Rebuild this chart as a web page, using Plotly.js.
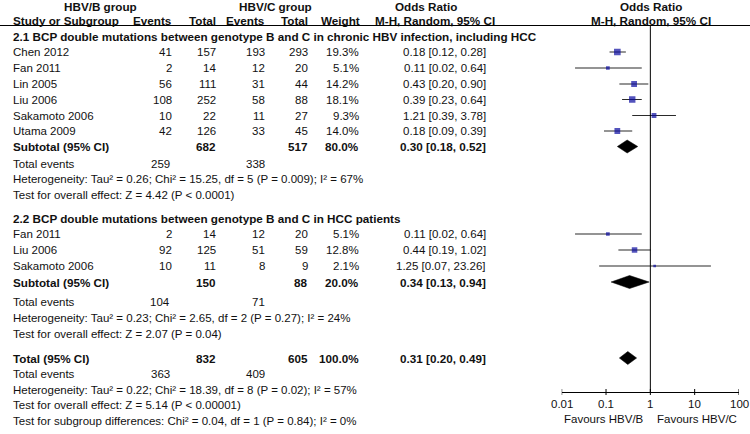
<!DOCTYPE html>
<html>
<head>
<meta charset="utf-8">
<script src="https://cdn.plot.ly/plotly-3.0.1.min.js"></script>
<style>
html,body{margin:0;padding:0;background:#fff;}
#chart{width:750px;height:434px;}
</style>
</head>
<body>
<div id="chart"></div>
<script>
// ---------- data ----------
const groupHeadings = [
  "2.1 BCP double mutations between genotype B and C in chronic HBV infection, including HCC",
  "2.2 BCP double mutations between genotype B and C in HCC patients"
];
const studies1 = ["Chen 2012", "Fan 2011", "Lin 2005", "Liu 2006", "Sakamoto 2006", "Utama 2009"];
const eventsB1 = [41, 2, 56, 108, 10, 42];
const totalB1  = [157, 14, 111, 252, 22, 126];
const eventsC1 = [193, 12, 31, 58, 11, 33];
const totalC1  = [293, 20, 44, 88, 27, 45];
const weight1  = [19.3, 5.1, 14.2, 18.1, 9.3, 14.0];
const or1      = [0.18, 0.11, 0.43, 0.39, 1.21, 0.18];
const lo1      = [0.12, 0.02, 0.20, 0.23, 0.39, 0.09];
const hi1      = [0.28, 0.64, 0.90, 0.64, 3.78, 0.39];

const studies2 = ["Fan 2011", "Liu 2006", "Sakamoto 2006"];
const eventsB2 = [2, 92, 10];
const totalB2  = [14, 125, 11];
const eventsC2 = [12, 51, 8];
const totalC2  = [20, 59, 9];
const weight2  = [5.1, 12.8, 2.1];
const or2      = [0.11, 0.44, 1.25];
const lo2      = [0.02, 0.19, 0.07];
const hi2      = [0.64, 1.02, 23.26];

// summaries: subtotal 1, subtotal 2, overall total
const summaryLabels  = ["Subtotal (95% CI)", "Subtotal (95% CI)", "Total (95% CI)"];
const summaryTotalB  = [682, 150, 832];
const summaryTotalC  = [517, 88, 605];
const summaryWeight  = [80.0, 20.0, 100.0];
const summaryOR      = [0.30, 0.34, 0.31];
const summaryLo      = [0.18, 0.13, 0.20];
const summaryHi      = [0.52, 0.94, 0.49];
const summaryEventsB = [259, 104, 363];
const summaryEventsC = [338, 71, 409];
const heterogeneity = [
  "Heterogeneity: Tau² = 0.26; Chi² = 15.25, df = 5 (P = 0.009); I² = 67%",
  "Heterogeneity: Tau² = 0.23; Chi² = 2.65, df = 2 (P = 0.27); I² = 24%",
  "Heterogeneity: Tau² = 0.22; Chi² = 18.39, df = 8 (P = 0.02); I² = 57%"
];
const overallEffect = [
  "Test for overall effect: Z = 4.42 (P < 0.0001)",
  "Test for overall effect: Z = 2.07 (P = 0.04)",
  "Test for overall effect: Z = 5.14 (P < 0.00001)"
];
const subgroupTest = "Test for subgroup differences: Chi² = 0.04, df = 1 (P = 0.84); I² = 0%";
const tickVals   = [0.01, 0.1, 1, 10, 100];
const tickLabels = ["0.01", "0.1", "1", "10", "100"];
const favourLabels = ["Favours HBV/B", "Favours HBV/C"];

// ---------- layout (pixel rows, since the y axis spans the page height) ----------
const W = 750, H = 434;
const rowsStudy1 = [52, 68, 84, 99.5, 115.5, 131];
const rowsStudy2 = [234, 250, 266];
const rowHeading = [36, 218];
const rowSummary = [146.5, 282, 358];
const rowEvents  = [163.5, 302, 374];
const rowHet     = [179, 318, 389.5];
const rowTest    = [194.5, 334, 405];
const rowSubTest = 421;
const axisY = 392;
const ruleY = 25.5;
const tickLabelY = 403.5;
const favourY = 419;

const colX = {label: 11, evB: 174, totB: 218, evC: 267, totC: 310, weight: 361, or: 488};
const FONT = "Liberation Sans, Arial, sans-serif";
const FS = 11.5;      // regular text
const FSB = 11.7;     // bold text
const TXT = "#111111";

const ann = [];
function addText(text, xpx, y, anchor, bold) {
  ann.push({
    text: bold ? "<b>" + text + "</b>" : text,
    xref: "paper", yref: "y", x: xpx / W, y: y,
    xanchor: anchor, yanchor: "middle", showarrow: false,
    font: {family: FONT, size: bold ? FSB : FS, color: TXT}
  });
}
function addPlotText(text, xv, y, anchor, xshift, bold) {
  ann.push({text: bold ? "<b>" + text + "</b>" : text, xref: "x", yref: "y", x: Math.log10(xv), y: y,
    xanchor: anchor, yanchor: "middle", xshift: xshift || 0, showarrow: false,
    font: {family: FONT, size: bold ? FSB : FS, color: TXT}});
}
const fmtW = w => w.toFixed(1) + "%";
const fmtOR = (o, l, h) => o.toFixed(2) + " [" + l.toFixed(2) + ", " + h.toFixed(2) + "]";

// headers
addText("HBV/B group", 100, 6, "center", true);
addText("HBV/C group", 275, 6, "center", true);
addText("Odds Ratio", 426, 6, "center", true);
addText("Study or Subgroup", colX.label, 20.5, "left", true);
addText("Events", colX.evB, 20.5, "right", true);
addText("Total", colX.totB, 20.5, "right", true);
addText("Events", colX.evC, 20.5, "right", true);
addText("Total", colX.totC, 20.5, "right", true);
addText("Weight", colX.weight + 1, 20.5, "right", true);
addText("M-H, Random, 95% CI", 435, 20.5, "center", true);
addPlotText("Odds Ratio", 1, 6, "center", 1, true);
addPlotText("M-H, Random, 95% CI", 1, 20.5, "center", 1, true);

function studyRows(names, eB, tB, eC, tC, w, o, l, h, rows) {
  names.forEach((n, i) => {
    const y = rows[i];
    addText(n, colX.label, y, "left", false);
    addText(String(eB[i]), colX.evB, y, "right", false);
    addText(String(tB[i]), colX.totB, y, "right", false);
    addText(String(eC[i]), colX.evC, y, "right", false);
    addText(String(tC[i]), colX.totC, y, "right", false);
    addText(fmtW(w[i]), colX.weight, y, "right", false);
    addText(fmtOR(o[i], l[i], h[i]), colX.or, y, "right", false);
  });
}
addText(groupHeadings[0], colX.label, rowHeading[0], "left", true);
studyRows(studies1, eventsB1, totalB1, eventsC1, totalC1, weight1, or1, lo1, hi1, rowsStudy1);
addText(groupHeadings[1], colX.label, rowHeading[1], "left", true);
studyRows(studies2, eventsB2, totalB2, eventsC2, totalC2, weight2, or2, lo2, hi2, rowsStudy2);

for (let k = 0; k < 3; k++) {
  const y = rowSummary[k];
  addText(summaryLabels[k], colX.label, y, "left", true);
  addText(String(summaryTotalB[k]), colX.totB, y, "right", true);
  addText(String(summaryTotalC[k]), colX.totC, y, "right", true);
  addText(fmtW(summaryWeight[k]), colX.weight, y, "right", true);
  addText(fmtOR(summaryOR[k], summaryLo[k], summaryHi[k]), colX.or, y, "right", true);
  addText("Total events", colX.label, rowEvents[k], "left", false);
  addText(String(summaryEventsB[k]), colX.evB - 2, rowEvents[k], "right", false);
  addText(String(summaryEventsC[k]), colX.evC, rowEvents[k], "right", false);
  addText(heterogeneity[k], colX.label, rowHet[k], "left", false);
  addText(overallEffect[k], colX.label, rowTest[k], "left", false);
}
addText(subgroupTest, colX.label, rowSubTest, "left", false);

// axis tick labels and favours labels
tickVals.forEach((v, i) => addPlotText(tickLabels[i], v, tickLabelY, "center"));
addPlotText(favourLabels[0], 1, favourY, "right", -4);
addPlotText(favourLabels[1], 1, favourY, "left", 5);

// ---------- traces ----------
const allOR = or1.concat(or2), allLo = lo1.concat(lo2), allHi = hi1.concat(hi2);
const allW = weight1.concat(weight2), allRows = rowsStudy1.concat(rowsStudy2);
const ciX = [], ciY = [];
allOR.forEach((o, i) => { ciX.push(allLo[i], allHi[i], null); ciY.push(allRows[i], allRows[i], null); });

const traces = [];
traces.push({type: "scatter", mode: "lines", x: ciX, y: ciY, line: {color: "#2a2a2a", width: 1.1},
  hoverinfo: "skip", showlegend: false});
traces.push({type: "scatter", mode: "markers", x: allOR, y: allRows,
  marker: {symbol: "square", color: "#0a0aa0", size: allW.map(w => 1.35 * Math.sqrt(w) + 0.7), line: {width: 0}},
  hoverinfo: "skip", showlegend: false});

const dh = 6.5;
for (let k = 0; k < 3; k++) {
  const y = rowSummary[k];
  traces.push({type: "scatter", mode: "lines", fill: "toself", fillcolor: "#000",
    x: [summaryLo[k], summaryOR[k], summaryHi[k], summaryOR[k], summaryLo[k]],
    y: [y, y - dh, y, y + dh, y], line: {width: 0.5, color: "#000"}, hoverinfo: "skip", showlegend: false});
}

// ---------- shapes ----------
const shapes = [
  {type: "line", xref: "paper", yref: "y", x0: 0, x1: 1, y0: ruleY, y1: ruleY, line: {color: "#000", width: 1}},
  {type: "line", xref: "x", yref: "y", x0: 1, x1: 1, y0: ruleY, y1: axisY, line: {color: "#000", width: 1}}
];
tickVals.forEach(v => shapes.push({type: "line", xref: "x", yref: "y", x0: v, x1: v, y0: axisY - 3, y1: axisY + 3,
  line: {color: "#000", width: 1}}));

const layout = {
  width: W, height: H,
  margin: {l: 0, r: 0, t: 0, b: 0},
  paper_bgcolor: "#fff", plot_bgcolor: "rgba(0,0,0,0)",
  showlegend: false,
  xaxis: {
    type: "log", range: [-2, 2], domain: [561.7 / W, 739 / W],
    anchor: "free", position: (H - axisY) / H,
    showline: true, linecolor: "#000", linewidth: 1,
    ticks: "", showticklabels: false,
    showgrid: false, zeroline: false, fixedrange: true
  },
  yaxis: {
    range: [H, 0], domain: [0, 1], visible: false, showgrid: false, zeroline: false, fixedrange: true
  },
  annotations: ann,
  shapes: shapes
};

Plotly.newPlot("chart", traces, layout, {displayModeBar: false, staticPlot: true});
</script>
</body>
</html>
